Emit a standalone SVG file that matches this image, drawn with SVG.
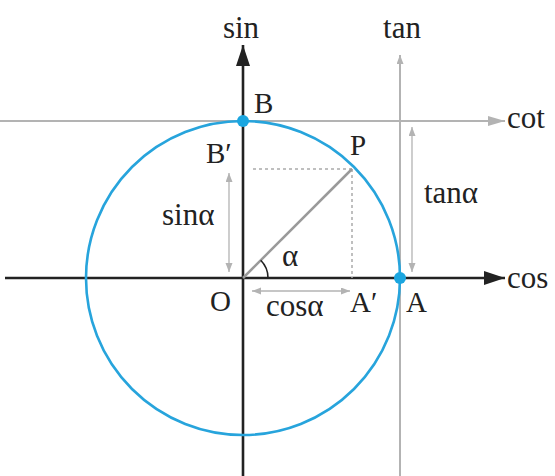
<svg xmlns="http://www.w3.org/2000/svg" width="555" height="476" viewBox="0 0 555 476">
<style>
text{font-family:"Liberation Serif","Times New Roman",serif;font-size:29px;fill:#222}
.lw{font-size:31px}
.ax{stroke:#222;stroke-width:2.6;fill:none}
.gl{stroke:#b3b3b3;stroke-width:2;fill:none}
.th{stroke:#b3b3b3;stroke-width:1.3;fill:none}
.ds{stroke:#aaa;stroke-width:1.5;stroke-dasharray:3 3;fill:none}
</style>
<defs>
<marker id="ab" markerUnits="userSpaceOnUse" markerWidth="22" markerHeight="16" refX="21" refY="7" orient="auto"><path d="M0,0 L21,7 L0,14 Z" fill="#222"/></marker>
<marker id="ag" markerUnits="userSpaceOnUse" markerWidth="18" markerHeight="12" refX="17" refY="5" orient="auto"><path d="M0,0 L17,5 L0,10 Z" fill="#b3b3b3"/></marker>
<marker id="as" markerUnits="userSpaceOnUse" markerWidth="10" markerHeight="8" refX="9" refY="3.5" orient="auto-start-reverse"><path d="M0,0 L9,3.5 L0,7 Z" fill="#b3b3b3"/></marker>
</defs>
<g id="connectors">
<line class="gl" x1="0" y1="121" x2="505" y2="121" marker-end="url(#ag)"/>
<line class="gl" x1="400" y1="476" x2="400" y2="55" marker-end="url(#as)"/>
<line class="ax" x1="5" y1="278" x2="505" y2="278" marker-end="url(#ab)"/>
<line class="ax" x1="243" y1="476" x2="243" y2="45" marker-end="url(#ab)"/>
<line class="ds" x1="253" y1="169" x2="352" y2="169"/>
<line class="ds" x1="352" y1="169" x2="352" y2="278"/>
<line x1="243" y1="278" x2="352" y2="169" stroke="#9a9a9a" stroke-width="2.5"/>
<path d="M268,278 A25,25 0 0 0 260.7,260.3" stroke="#222" stroke-width="1.6" fill="none"/>
<line class="th" x1="229" y1="173" x2="229" y2="272" marker-start="url(#as)" marker-end="url(#as)"/>
<line class="th" x1="252" y1="291" x2="350" y2="291" marker-start="url(#as)" marker-end="url(#as)"/>
<line class="th" x1="412" y1="127" x2="412" y2="272" marker-start="url(#as)" marker-end="url(#as)"/>
</g>
<g id="circle"><circle cx="243" cy="278" r="157" fill="none" stroke="#27a4dc" stroke-width="2.6"/></g>
<g id="B"><circle cx="243" cy="121" r="6" fill="#1ba6e0"/><text x="254" y="113">B</text></g>
<g id="A"><circle cx="400" cy="278" r="6" fill="#1ba6e0"/><text x="406" y="312">A</text></g>
<g id="Bp"><text x="206" y="163">B′</text></g>
<g id="P"><text x="350" y="155">P</text></g>
<g id="O"><text x="210" y="311">O</text></g>
<g id="Ap"><text x="350" y="312">A′</text></g>
<g id="labels">
<text class="lw" x="241" y="38" text-anchor="middle">sin</text>
<text class="lw" x="402" y="38" text-anchor="middle">tan</text>
<text class="lw" x="507" y="128">cot</text>
<text class="lw" x="507" y="288">cos</text>
<text class="lw" x="162" y="225">sinα</text>
<text class="lw" x="424" y="203">tanα</text>
<text class="lw" x="282" y="266">α</text>
<text class="lw" x="266" y="316">cosα</text>
</g>
</svg>
